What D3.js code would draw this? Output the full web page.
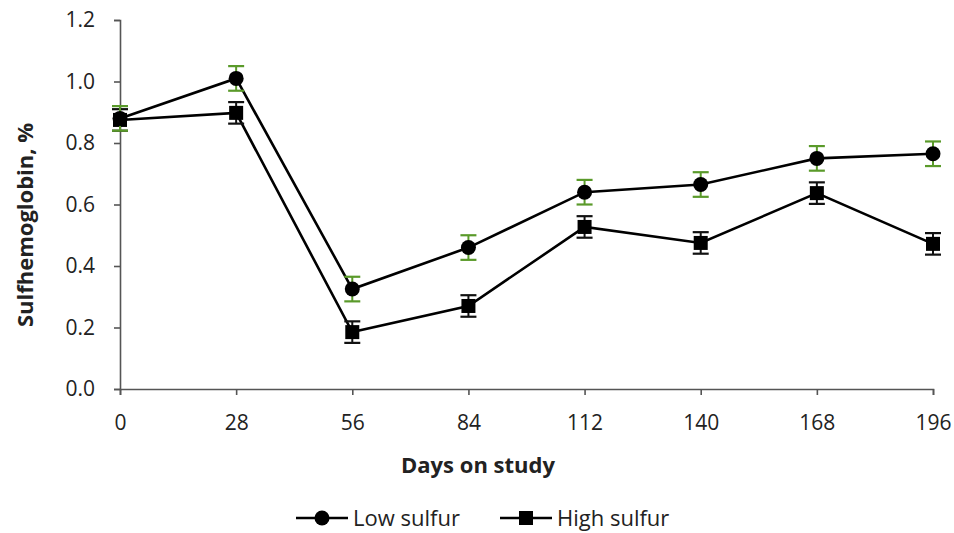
<!DOCTYPE html>
<html>
<head>
<meta charset="utf-8">
<script src="https://cdn.jsdelivr.net/npm/d3@7"></script>
<style>
  body { margin: 0; background: #fff; }
  text { font-family: "Open Sans", "Noto Sans", sans-serif; fill: #222; }
</style>
</head>
<body>
<div id="chart"></div>
<script>
// data
const days = [0, 28, 56, 84, 112, 140, 168, 196];
const lowSulfur = [0.88, 1.01, 0.325, 0.46, 0.64, 0.665, 0.75, 0.765];
const lowSulfurErr = [0.04, 0.04, 0.04, 0.04, 0.04, 0.04, 0.04, 0.04];
const highSulfur = [0.875, 0.898, 0.185, 0.27, 0.527, 0.475, 0.637, 0.472];
const highSulfurErr = [0.035, 0.035, 0.035, 0.035, 0.035, 0.035, 0.035, 0.035];
const yTicks = [0, 0.2, 0.4, 0.6, 0.8, 1.0, 1.2];

const W = 954, H = 533;
const margin = { top: 20, right: 21, bottom: 144, left: 120 };
const width = W - margin.left - margin.right;
const height = H - margin.top - margin.bottom;

const svg = d3.select("#chart").append("svg")
    .attr("width", W)
    .attr("height", H);

const g = svg.append("g")
    .attr("transform", `translate(${margin.left},${margin.top})`);

const x = d3.scaleLinear().domain([0, 196]).range([0, width]);
const y = d3.scaleLinear().domain([0, 1.2]).range([height, 0]);

// axes
const yAxis = g.append("g")
    .call(d3.axisLeft(y).tickValues(yTicks).tickSize(6).tickPadding(19).tickFormat(d3.format(".1f")));
const xAxis = g.append("g")
    .attr("transform", `translate(0,${height})`)
    .call(d3.axisBottom(x).tickValues(days).tickSize(6).tickPadding(20));

[xAxis, yAxis].forEach(a => {
    a.select(".domain").attr("stroke", "#555").attr("stroke-width", 1.6);
    a.selectAll(".tick line").attr("stroke", "#555").attr("stroke-width", 1.6);
    a.selectAll("text").style("font-size", "21px").attr("fill", "#222");
});

// axis titles
svg.append("text")
    .attr("transform", "translate(33,225) rotate(-90)")
    .attr("text-anchor", "middle")
    .style("font-size", "22px")
    .style("font-weight", "bold")
    .text("Sulfhemoglobin, %");

svg.append("text")
    .attr("x", 478)
    .attr("y", 473)
    .attr("text-anchor", "middle")
    .style("font-size", "22px")
    .style("font-weight", "bold")
    .text("Days on study");

const series = [
    { name: "Low sulfur", values: lowSulfur, err: lowSulfurErr, errColor: "#5a9a2a", marker: "circle" },
    { name: "High sulfur", values: highSulfur, err: highSulfurErr, errColor: "#111", marker: "square" }
];

const line = d3.line()
    .x((d, i) => x(days[i]))
    .y(d => y(d));

// lines first
series.slice().reverse().forEach(s => {
    g.append("path")
        .datum(s.values)
        .attr("fill", "none")
        .attr("stroke", "#000")
        .attr("stroke-width", 2.6)
        .attr("d", line);
});

function drawMarker(sel, type, cx, cy) {
    if (type === "circle") {
        sel.append("circle").attr("cx", cx).attr("cy", cy).attr("r", 7.5).attr("fill", "#000");
    } else {
        sel.append("rect").attr("x", cx - 7).attr("y", cy - 7).attr("width", 14).attr("height", 14).attr("fill", "#000");
    }
}

// error bars and markers, high sulfur first so green sits on top
series.slice().reverse().forEach(s => {
    const grp = g.append("g");
    s.values.forEach((v, i) => {
        const cx = x(days[i]);
        const top = y(v + s.err[i]), bot = y(v - s.err[i]);
        grp.append("line").attr("x1", cx).attr("x2", cx).attr("y1", top).attr("y2", bot)
            .attr("stroke", s.errColor).attr("stroke-width", 2);
        [top, bot].forEach(yy => {
            grp.append("line").attr("x1", cx - 8).attr("x2", cx + 8).attr("y1", yy).attr("y2", yy)
                .attr("stroke", s.errColor).attr("stroke-width", 2.2);
        });
        drawMarker(grp, s.marker, cx, y(v));
    });
});

// legend
const legend = svg.append("g").attr("transform", "translate(0,518)");
const legendX = [296, 500];
series.forEach((s, i) => {
    const lg = legend.append("g").attr("transform", `translate(${legendX[i]},0)`);
    lg.append("line").attr("x1", 0).attr("x2", 52).attr("y1", 0).attr("y2", 0)
        .attr("stroke", "#000").attr("stroke-width", 2.6);
    drawMarker(lg, s.marker, 26, 0);
    lg.append("text").attr("x", 57).attr("y", 8)
        .style("font-size", "22px")
        .text(s.name);
});
</script>
</body>
</html>
